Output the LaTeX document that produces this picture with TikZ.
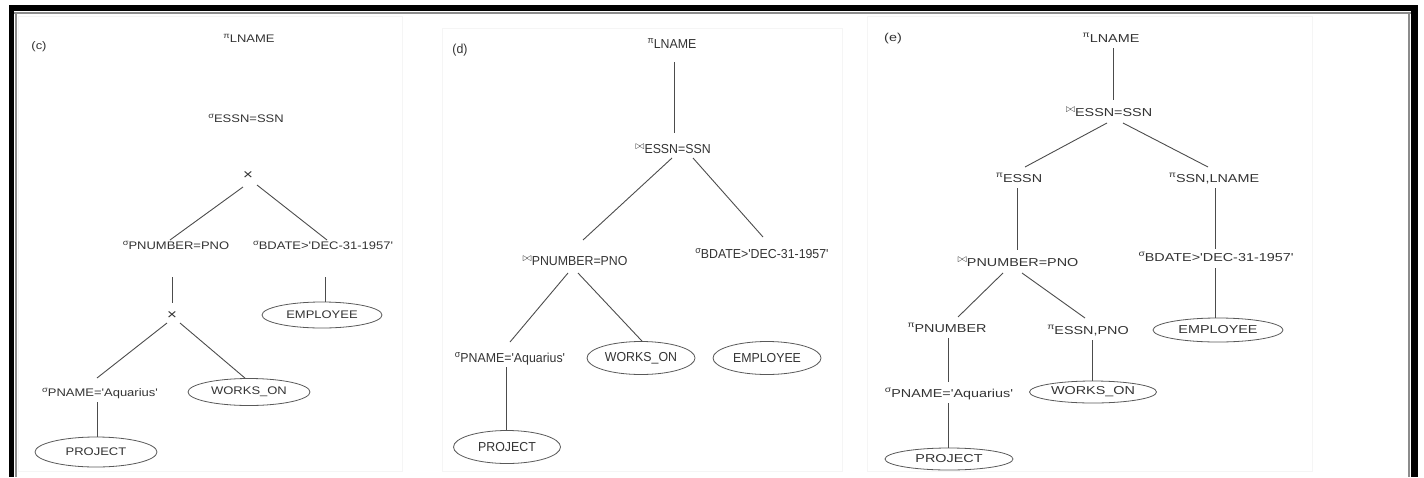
\documentclass[tikz,border=0pt]{standalone}
\usepackage{fontspec}
\usepackage{graphicx}
\usetikzlibrary{shapes.geometric}
\newfontfamily\fontC[FakeStretch=1.18]{Liberation Sans}
\newfontfamily\fontD[FakeStretch=0.95]{Liberation Sans}
\newfontfamily\fontE[FakeStretch=1.25]{Liberation Sans}
\newcommand\opRaise[1]{\raisebox{0.36em}{\scalebox{0.72}{#1}}}
\newcommand\opSig{\opRaise{σ}}
\newcommand\opPi{\opRaise{π}}
\newcommand\opJoin{\raisebox{0.3em}{\scalebox{0.95}{$\bowtie$}}}
\newcommand\crossOp{\scalebox{1.3}{×}}
\tikzset{
  lblC/.style={font=\fontC\fontsize{11}{13}\selectfont, text=black!80, inner sep=0pt, anchor=base},
  lblD/.style={font=\fontD\fontsize{13}{15}\selectfont, text=black!80, inner sep=0pt, anchor=base},
  lblE/.style={font=\fontE\fontsize{11.5}{13}\selectfont, text=black!80, inner sep=0pt, anchor=base},
  rel/.style={ellipse, draw=black!65, line width=0.8pt, inner sep=0pt, text=black!80},
  relC/.style={rel, font=\fontC\fontsize{11}{13}\selectfont},
  relD/.style={rel, font=\fontD\fontsize{13}{15}\selectfont},
  relE/.style={rel, font=\fontE\fontsize{11.5}{13}\selectfont},
  conn/.style={draw=black!70, line width=0.9pt},
  panel/.style={draw=black!4, line width=0.6pt},
}
\begin{document}
\begin{tikzpicture}[x=1pt,y=-1pt]
\useasboundingbox (0,0) rectangle (1424,477);
% frame
\fill[black] (9,5) rectangle (1418,11);
\fill[black] (9,5) rectangle (14,477);
\fill[black] (1411,5) rectangle (1418,477);
\draw[black!45, line width=1.5pt] (14,13) -- (1411,13);
\draw[black!45, line width=1.5pt] (16,13) -- (16,477);
\draw[black!45, line width=1.5pt] (1409,13) -- (1409,477);
% panels
\draw[panel] (18,16) rectangle (402,471);
\draw[panel] (442,28) rectangle (842,471);
\draw[panel] (867,16) rectangle (1312,471);

% ---------- panel (c)
\node[lblC] (cL) at (39,49) {(c)};
\node[lblC] (cP) at (249,42) {\opPi LNAME};
\node[lblC] (cS) at (246,122) {\opSig ESSN=SSN};
\node[lblC] (cX) at (248,179) {\crossOp};
\node[lblC] (cPN) at (176,249) {\opSig PNUMBER=PNO};
\node[lblC] (cBD) at (323,249) {\opSig BDATE>'DEC-31-1957'};
\node[lblC] (cX2) at (172,319) {\crossOp};
\node[lblC] (cPA) at (100,396) {\opSig PNAME='Aquarius'};
\node[relC, minimum width=122pt, minimum height=27pt] (cWO) at (249,392) {WORKS\_ON};
\node[relC, minimum width=122pt, minimum height=30pt] (cPR) at (96,452) {PROJECT};
\node[relC, minimum width=120pt, minimum height=26pt] (cEM) at (322,315) {EMPLOYEE};
\draw[conn] ([shift={(-5,8)}]cX.base) -- ([shift={(-6,-9)}]cPN.base);
\draw[conn] ([shift={(9,6)}]cX.base) -- ([shift={(4,-9)}]cBD.base);
\draw[conn] ([shift={(-4,28)}]cPN.base) -- ([shift={(0,-16)}]cX2.base);
\draw[conn] ([shift={(-5,4)}]cX2.base) -- ([shift={(-3,-18)}]cPA.base);
\draw[conn] ([shift={(8,4)}]cX2.base) -- ([xshift=-4pt]cWO.north);
\draw[conn] ([shift={(-3,6)}]cPA.base) -- ([xshift=1pt]cPR.north);
\draw[conn] ([shift={(2,28)}]cBD.base) -- ([xshift=3pt]cEM.north);

% ---------- panel (d)
\node[lblD] (dL) at (460,53) {(d)};
\node[lblD] (dP) at (672,48) {\opPi LNAME};
\node[lblD] (dJ1) at (673,153) {\opJoin ESSN=SSN};
\node[lblD] (dJ2) at (575,265) {\opJoin PNUMBER=PNO};
\node[lblD] (dBD) at (762,258) {\opSig BDATE>'DEC-31-1957'};
\node[lblD] (dPA) at (510,362) {\opSig PNAME='Aquarius'};
\node[relD, minimum width=108pt, minimum height=33pt] (dWO) at (641,358) {WORKS\_ON};
\node[relD, minimum width=108pt, minimum height=33pt] (dEM) at (767,358) {EMPLOYEE};
\node[relD, minimum width=107pt, minimum height=33pt] (dPR) at (507,447) {PROJECT};
\draw[conn] ([shift={(2,14)}]dP.base) -- ([shift={(1,-20)}]dJ1.base);
\draw[conn] ([shift={(-1,5)}]dJ1.base) -- ([shift={(8,-25)}]dJ2.base);
\draw[conn] ([shift={(20,5)}]dJ1.base) -- ([shift={(1,-21)}]dBD.base);
\draw[conn] ([shift={(-7,8)}]dJ2.base) -- ([shift={(0,-20)}]dPA.base);
\draw[conn] ([shift={(3,8)}]dJ2.base) -- ([xshift=1pt]dWO.north);
\draw[conn] ([shift={(-4,5)}]dPA.base) -- ([xshift=-1pt]dPR.north);

% ---------- panel (e)
\node[lblE] (eL) at (893,41) {(e)};
\node[lblE] (eP) at (1111,42) {\opPi LNAME};
\node[lblE] (eJ1) at (1109,116) {\opJoin ESSN=SSN};
\node[lblE] (eES) at (1019,182) {\opPi ESSN};
\node[lblE] (eSL) at (1214,182) {\opPi SSN,LNAME};
\node[lblE] (eJ2) at (1018,266) {\opJoin PNUMBER=PNO};
\node[lblE] (eBD) at (1216,261) {\opSig BDATE>'DEC-31-1957'};
\node[relE, minimum width=130pt, minimum height=24pt] (eEM) at (1218,330) {EMPLOYEE};
\node[lblE] (ePN) at (947,332) {\opPi PNUMBER};
\node[lblE] (eEP) at (1088,334) {\opPi ESSN,PNO};
\node[lblE] (ePA) at (949,397) {\opSig PNAME='Aquarius'};
\node[relE, minimum width=127pt, minimum height=22pt] (eWO) at (1093,392) {WORKS\_ON};
\node[relE, minimum width=128pt, minimum height=22pt] (ePR) at (949,459) {PROJECT};
\draw[conn] ([shift={(2,6)}]eP.base) -- ([shift={(4,-16)}]eJ1.base);
\draw[conn] ([shift={(-2,7)}]eJ1.base) -- ([shift={(6,-15)}]eES.base);
\draw[conn] ([shift={(14,7)}]eJ1.base) -- ([shift={(-6,-15)}]eSL.base);
\draw[conn] ([shift={(-2,6)}]eES.base) -- ([shift={(-1,-16)}]eJ2.base);
\draw[conn] ([shift={(1,6)}]eSL.base) -- ([shift={(-1,-12)}]eBD.base);
\draw[conn] ([shift={(-1,7)}]eBD.base) -- ([xshift=-3pt]eEM.north);
\draw[conn] ([shift={(-15,7)}]eJ2.base) -- ([shift={(11,-15)}]ePN.base);
\draw[conn] ([shift={(4,7)}]eJ2.base) -- ([shift={(-3,-16)}]eEP.base);
\draw[conn] ([shift={(1,6)}]ePN.base) -- ([shift={(-1,-15)}]ePA.base);
\draw[conn] ([shift={(4,6)}]eEP.base) -- ([xshift=-1pt]eWO.north);
\draw[conn] ([shift={(-1,6)}]ePA.base) -- ([xshift=-1pt]ePR.north);
\end{tikzpicture}
\end{document}
